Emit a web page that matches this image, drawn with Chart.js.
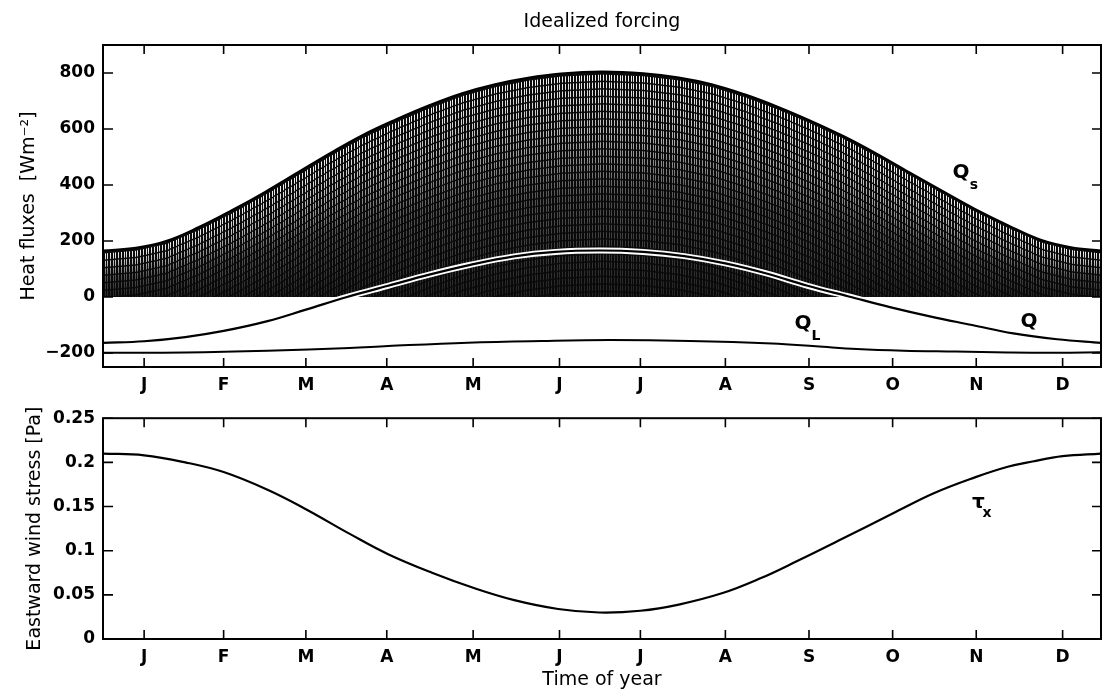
<!DOCTYPE html>
<html>
<head>
<meta charset="utf-8">
<title>Idealized forcing</title>
<script src="https://cdn.jsdelivr.net/npm/chart.js@4.4.1/dist/chart.umd.min.js"></script>
<style>
    body { margin: 0; background: #fff; }
    #wrap { position: relative; width: 1104px; height: 698px; }
    canvas { position: absolute; left: 0; }
    #top { top: 0; }
    #bottom { top: 400px; }
</style>
</head>
<body>
<div id="wrap">
    <canvas id="top" width="1104" height="400"></canvas>
    <canvas id="bottom" width="1104" height="298"></canvas>
</div>
<script>
// Eje temporal: día del año, marcas a mitad de cada mes
const monthLabels = ['J', 'F', 'M', 'A', 'M', 'J', 'J', 'A', 'S', 'O', 'N', 'D'];
const monthTicks = [15, 44, 74, 103.5, 135, 166.5, 196, 227, 257.5, 288, 318.5, 350];
const heatTicks = [-200, 0, 200, 400, 600, 800];
const tauTicks = [0, 0.05, 0.1, 0.15, 0.2, 0.25];

// Qs: envolvente del ciclo diurno de radiación solar [W m-2]
const qsDays   = [0, 12, 23, 35, 47, 59, 71, 83, 95, 107, 119, 131, 143, 155, 167, 182, 197, 210, 222, 234, 246, 258, 270, 282, 294, 306, 318, 330, 342, 353, 364];
const qsValues = [166, 176, 200, 250, 310, 375, 445, 515, 580, 635, 685, 728, 760, 783, 798, 805, 799, 784, 760, 724, 680, 630, 575, 513, 446, 380, 315, 257, 205, 178, 166];

// Q: flujo neto de calor
const qDays   = [0, 15, 30, 44, 60, 74, 89, 104, 119, 134, 150, 165, 181, 197, 212, 227, 242, 257, 272, 287, 302, 317, 332, 348, 364];
const qValues = [-164, -158, -143, -121, -86, -45, 0, 40, 80, 115, 145, 161, 166, 161, 146, 120, 84, 40, 2, -36, -70, -100, -130, -151, -164];

// QL: flujo de onda larga + turbulento
const qlDays   = [0, 30, 60, 90, 104, 133, 160, 185, 214, 244, 260, 275, 292, 311, 330, 348, 364];
const qlValues = [-199, -198, -192, -182, -175, -163, -157, -154, -157, -166, -176, -186, -192, -195, -198, -199, -197];

// tau_x: esfuerzo del viento hacia el este [Pa]
const tauDays   = [0, 15, 30, 44, 60, 74, 90, 104, 120, 135, 150, 166, 181, 196, 210, 226, 240, 253, 270, 288, 303, 318, 330, 339, 350, 364];
const tauValues = [0.210, 0.208, 0.200, 0.189, 0.169, 0.147, 0.119, 0.096, 0.075, 0.058, 0.044, 0.034, 0.030, 0.032, 0.039, 0.052, 0.069, 0.088, 0.114, 0.142, 0.165, 0.183, 0.195, 0.201, 0.207, 0.210];

const FONT = "'DejaVu Sans', 'Liberation Sans', sans-serif";
Chart.defaults.font.family = FONT;
Chart.defaults.color = '#000';

function toPoints(xs, ys) {
    return xs.map((x, i) => ({ x: x, y: ys[i] }));
}

// Altura (px) del borde superior de Qs en una columna x
function topAt(pts, x) {
    for (let i = 1; i < pts.length; i++) {
        if (x <= pts[i].x) {
            const t = (x - pts[i - 1].x) / (pts[i].x - pts[i - 1].x);
            return pts[i - 1].y + t * (pts[i].y - pts[i - 1].y);
        }
    }
    return pts[pts.length - 1].y;
}

// Textura de rayas verticales dentro del área de Qs (imitando el ciclo diurno)
const qsTexture = {
    id: 'qsTexture',
    afterDatasetDraw(chart, args) {
        if (chart.data.datasets[args.index].label !== 'Qs') return;
        const pts = args.meta.data;
        const ctx = chart.ctx;
        const y0 = chart.scales.y.getPixelForValue(0);
        ctx.save();
        ctx.beginPath();
        ctx.moveTo(pts[0].x, y0);
        pts.forEach(p => ctx.lineTo(p.x, p.y));
        ctx.lineTo(pts[pts.length - 1].x, y0);
        ctx.closePath();
        ctx.clip();
        ctx.lineWidth = 1;
        ctx.setLineDash([6, 1.5]);
        for (let x = pts[0].x + 1.5; x < pts[pts.length - 1].x; x += 2.74) {
            const top = topAt(pts, x) + 3;
            const g = ctx.createLinearGradient(0, top, 0, y0);
            g.addColorStop(0, 'rgba(255,255,255,0.95)');
            g.addColorStop(0.25, 'rgba(255,255,255,0.7)');
            g.addColorStop(0.55, 'rgba(255,255,255,0.3)');
            g.addColorStop(1, 'rgba(255,255,255,0.1)');
            ctx.strokeStyle = g;
            ctx.beginPath();
            ctx.moveTo(Math.round(x) + 0.5, top);
            ctx.lineTo(Math.round(x) + 0.5, y0);
            ctx.stroke();
        }
        ctx.restore();
    }
};

// Marco completo con marcas hacia dentro en los cuatro lados
const frameTicks = {
    id: 'frameTicks',
    afterDraw(chart) {
        const { ctx, chartArea: a, scales } = chart;
        ctx.save();
        ctx.strokeStyle = '#000';
        ctx.lineWidth = 2;
        ctx.strokeRect(a.left, a.top, a.right - a.left, a.bottom - a.top);
        ctx.lineWidth = 1.6;
        ctx.beginPath();
        scales.x.ticks.forEach(t => {
            const x = scales.x.getPixelForValue(t.value);
            ctx.moveTo(x, a.bottom); ctx.lineTo(x, a.bottom - 9);
            ctx.moveTo(x, a.top); ctx.lineTo(x, a.top + 9);
        });
        scales.y.ticks.forEach(t => {
            const y = scales.y.getPixelForValue(t.value);
            ctx.moveTo(a.left, y); ctx.lineTo(a.left + 10, y);
            ctx.moveTo(a.right, y); ctx.lineTo(a.right - 9, y);
        });
        ctx.stroke();
        ctx.restore();
    }
};

// Etiquetas de las curvas con subíndice
const curveLabels = {
    id: 'curveLabels',
    afterDatasetsDraw(chart, args, opts) {
        const { ctx, scales } = chart;
        const items = opts.items || [];
        ctx.save();
        ctx.fillStyle = '#000';
        ctx.textAlign = 'center';
        ctx.textBaseline = 'middle';
        for (let i = 0; i < items.length; i++) {
            const it = items[i];
            const x = scales.x.getPixelForValue(it.day);
            const y = scales.y.getPixelForValue(it.value);
            ctx.font = 'bold 20px ' + FONT;
            ctx.fillText(it.main, x, y);
            if (it.sub) {
                ctx.font = 'bold 14px ' + FONT;
                ctx.fillText(it.sub, x + it.dx, y + it.dy);
            }
        }
        ctx.restore();
    }
};

function xScale(height, title) {
    return {
        type: 'linear',
        min: 0,
        max: 364,
        grid: { display: false, drawTicks: false },
        border: { display: false },
        ticks: {
            padding: 8,
            autoSkip: false,
            maxRotation: 0,
            font: { size: 17, weight: 'bold' },
            callback: (v, i) => monthLabels[i]
        },
        title: title ? { display: true, text: title, font: { size: 19 }, padding: { top: 0, bottom: 7 } } : { display: false },
        afterBuildTicks: s => { s.ticks = monthTicks.map(v => ({ value: v })); },
        afterFit: s => { s.height = height; }
    };
}

function yScale(min, max, ticks, title, titlePad, fmt) {
    return {
        min: min,
        max: max,
        grid: { display: false, drawTicks: false },
        border: { display: false },
        ticks: {
            padding: 8,
            font: { size: 17, weight: 'bold' },
            callback: fmt
        },
        title: { display: true, text: title, font: { size: 19 }, padding: { top: titlePad, bottom: 0 } },
        afterBuildTicks: s => { s.ticks = ticks.map(v => ({ value: v })); },
        afterFit: s => { s.width = 103; }
    };
}

const common = {
    responsive: false,
    animation: false,
    elements: {
        point: { radius: 0 },
        line: { tension: 0.4 }
    }
};

// Panel superior: flujos de calor
new Chart(document.getElementById('top'), {
    type: 'line',
    data: {
        datasets: [
            { label: 'Q', data: toPoints(qDays, qValues), borderColor: '#000', borderWidth: 2.2, order: 0 },
            { label: 'Q halo', data: toPoints(qDays, qValues), borderColor: '#fff', borderWidth: 6, order: 1 },
            { label: 'QL', data: toPoints(qlDays, qlValues), borderColor: '#000', borderWidth: 2, order: 2 },
            { label: 'Qs', data: toPoints(qsDays, qsValues), borderColor: '#000', borderWidth: 2,
              fill: 'origin', backgroundColor: '#0a0a0a', order: 3 }
        ]
    },
    options: Object.assign({}, common, {
        layout: { padding: { left: 0, right: 3, top: 0, bottom: 0 } },
        plugins: {
            legend: { display: false },
            tooltip: { enabled: false },
            title: {
                display: true,
                fullSize: false,
                text: 'Idealized forcing',
                color: '#000',
                font: { size: 19, weight: 'normal' },
                padding: { top: 11, bottom: 11.2 }
            },
            curveLabels: {
                items: [
                    { main: 'Q', sub: 's', day: 312.9, value: 442, dx: 13, dy: 12.5 },
                    { main: 'Q', sub: 'L', day: 255.3, value: -96, dx: 13, dy: 12 },
                    { main: 'Q', sub: '', day: 337.7, value: -89, dx: 0, dy: 0 }
                ]
            }
        },
        scales: {
            x: xScale(33, null),
            y: yScale(-250, 900, heatTicks, 'Heat fluxes  [Wm\u207B\u00B2]', 18, v => v < 0 ? '\u2212' + Math.abs(v) : String(v))
        }
    }),
    plugins: [qsTexture, frameTicks, curveLabels]
});

// Panel inferior: esfuerzo del viento
new Chart(document.getElementById('bottom'), {
    type: 'line',
    data: {
        datasets: [
            { label: 'tau_x', data: toPoints(tauDays, tauValues), borderColor: '#000', borderWidth: 2.2 }
        ]
    },
    options: Object.assign({}, common, {
        layout: { padding: { left: 0, right: 3, top: 13, bottom: 0 } },
        plugins: {
            legend: { display: false },
            tooltip: { enabled: false },
            curveLabels: {
                items: [
                    { main: '\u03C4', sub: 'x', day: 319.3, value: 0.1538, dx: 8.5, dy: 10 }
                ]
            }
        },
        scales: {
            x: xScale(59, 'Time of year'),
            y: yScale(0, 0.25, tauTicks, 'Eastward wind stress [Pa]', 24, v => String(Math.round(v * 100) / 100))
        }
    }),
    plugins: [frameTicks, curveLabels]
});
</script>
</body>
</html>
